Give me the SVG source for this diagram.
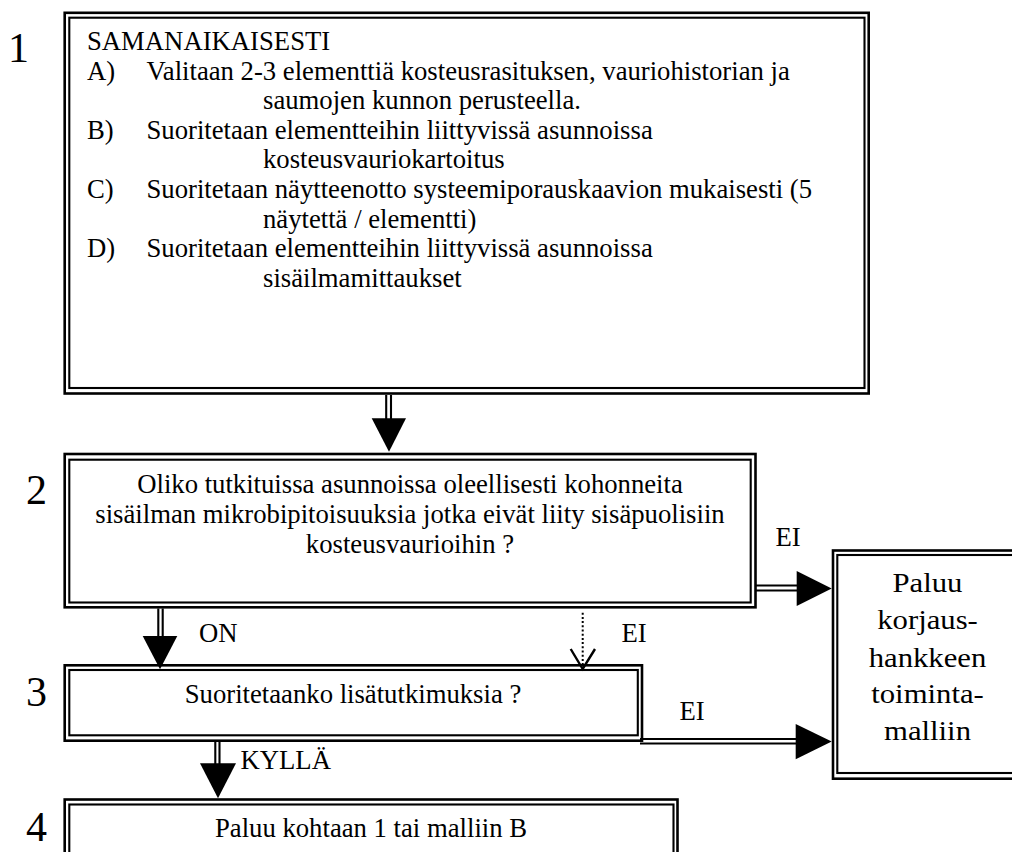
<svg xmlns="http://www.w3.org/2000/svg" width="1012" height="852" viewBox="0 0 1012 852">
  <style>
    text { font-family: "Liberation Serif", "Times New Roman", serif; font-size: 26.7px; fill: #000; }
    .num { font-size: 42px; }
    .c { text-anchor: middle; }
    .outer { fill: none; stroke: #000; stroke-width: 2.6; }
    .inner { fill: none; stroke: #000; stroke-width: 2.1; }
    .wire { fill: none; stroke: #000; stroke-width: 2.1; }
    .head { fill: #000; stroke: none; }
    .dots { fill: none; stroke: #000; stroke-width: 2; stroke-dasharray: 2 2.2; }
    .open { fill: none; stroke: #000; stroke-width: 2.4; stroke-linejoin: miter; }
  </style>
  <rect width="1012" height="852" fill="#fff"/>

  <!-- step 1 -->
  <g id="step1">
    <rect class="outer" x="64.7" y="12.8" width="804" height="380.7"/>
    <rect class="inner" x="69.3" y="17.7" width="795.2" height="370.3"/>
    <text class="num c" x="18.5" y="61.7">1</text>
    <text x="87" y="50">SAMANAIKAISESTI</text>
    <text x="87" y="79.6">A)</text>
    <text x="146.5" y="79.6">Valitaan 2-3 elementtiä kosteusrasituksen, vauriohistorian ja</text>
    <text x="263" y="109.2">saumojen kunnon perusteella.</text>
    <text x="87" y="138.8">B)</text>
    <text x="146.5" y="138.8">Suoritetaan elementteihin liittyvissä asunnoissa</text>
    <text x="263" y="168.4">kosteusvauriokartoitus</text>
    <text x="87" y="198">C)</text>
    <text x="146.5" y="198">Suoritetaan näytteenotto systeemiporauskaavion mukaisesti (5</text>
    <text x="263" y="227.6">näytettä / elementti)</text>
    <text x="87" y="257.2">D)</text>
    <text x="146.5" y="257.2">Suoritetaan elementteihin liittyvissä asunnoissa</text>
    <text x="263" y="286.8">sisäilmamittaukset</text>
  </g>

  <!-- step 2 -->
  <g id="step2">
    <rect class="outer" x="64.7" y="454" width="690.8" height="153.3"/>
    <rect class="inner" x="69.3" y="459.7" width="681.4" height="142.8"/>
    <text class="num c" x="36.5" y="504">2</text>
    <text class="c" x="410" y="492.5">Oliko tutkituissa asunnoissa oleellisesti kohonneita</text>
    <text class="c" x="410" y="522.5">sisäilman mikrobipitoisuuksia jotka eivät liity sisäpuolisiin</text>
    <text class="c" x="410" y="552.5">kosteusvaurioihin ?</text>
  </g>

  <!-- step 3 -->
  <g id="step3">
    <rect class="outer" x="64.7" y="665.3" width="577.3" height="75.4"/>
    <rect class="inner" x="69.3" y="670" width="568.5" height="65.3"/>
    <text class="num c" x="36.5" y="706">3</text>
    <text class="c" x="353" y="703">Suoritetaanko lisätutkimuksia ?</text>
  </g>

  <!-- step 4 -->
  <g id="step4">
    <rect class="outer" x="64.7" y="799.5" width="612.8" height="70"/>
    <rect class="inner" x="69.3" y="804.5" width="604.2" height="60"/>
    <text class="num c" x="36.5" y="841">4</text>
    <text class="c" x="371" y="836.7">Paluu kohtaan 1 tai malliin B</text>
  </g>

  <!-- return to the repair project model -->
  <g id="return">
    <rect class="outer" x="833" y="550.5" width="188" height="228.2"/>
    <rect class="inner" x="837.3" y="555" width="179.7" height="218"/>
    <g transform="translate(927.5 0) scale(1.15 1)">
      <text class="c" x="0" y="591.7">Paluu</text>
      <text class="c" x="0" y="629.5">korjaus-</text>
      <text class="c" x="0" y="666.7">hankkeen</text>
      <text class="c" x="0" y="703.3">toiminta-</text>
      <text class="c" x="0" y="740">malliin</text>
    </g>
  </g>

  <!-- connectors -->
  <g id="connectors">
    <!-- 1 to 2 -->
    <path class="wire" d="M386.2 395 V419 M391 395 V419"/>
    <polygon class="head" points="371.7,418.3 406,418.3 389,451.7"/>
    <!-- 2 to 3 : ON -->
    <path class="wire" d="M158.3 608.5 V637 M162.7 608.5 V637"/>
    <polygon class="head" points="142.7,636 177.3,636 160,669.3"/>
    <text x="199" y="641.7">ON</text>
    <!-- 2 to 3 : EI (dotted) -->
    <path class="dots" d="M582.7 612.7 V668"/>
    <polyline class="open" points="570.7,649 582.7,669 595,649"/>
    <text x="621.5" y="641.7">EI</text>
    <!-- 2 to return : EI -->
    <path class="wire" d="M756 585.5 H797 M756 590.5 H797"/>
    <polygon class="head" points="796.7,571 796.7,606 831.7,588.5"/>
    <text x="775.5" y="545.7">EI</text>
    <!-- 3 to return : EI -->
    <path class="wire" d="M640 739 H796 M640 743.5 H796"/>
    <polygon class="head" points="795.7,724 795.7,759.3 831.7,741.5"/>
    <text x="679.5" y="720">EI</text>
    <!-- 3 to 4 : KYLLÄ -->
    <path class="wire" d="M215.3 742 V764 M219.5 742 V764"/>
    <polygon class="head" points="200,763.3 236,763.3 218,798.3"/>
    <text x="240.5" y="769.3">KYLLÄ</text>
  </g>
</svg>
